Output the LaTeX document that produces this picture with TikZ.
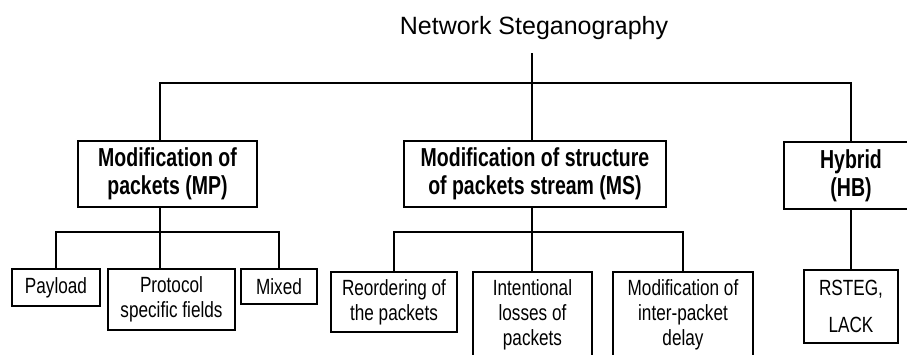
\documentclass[tikz,border=0pt]{standalone}
\usepackage{fontspec}
\setmainfont{Liberation Sans}
\newfontfamily\catfont{Liberation Sans}[FakeStretch=0.75]
\newfontfamily\techfont{Liberation Sans}[FakeStretch=0.78]
\usepackage{tikz}
\usetikzlibrary{positioning, calc}
\tikzstyle{category} = [rectangle, draw=black, line width=1.3pt, align=center, inner sep=2pt, font=\catfont\fontsize{26}{28}\selectfont\bfseries]
\tikzstyle{technique} = [rectangle, draw=black, line width=1.3pt, align=center, inner sep=2pt, font=\techfont\fontsize{22}{25}\selectfont]
\tikzstyle{link} = [line width=1.3pt, draw=black]

\begin{document}
\begin{tikzpicture}[x=1pt, y=-1pt]
    \useasboundingbox (0,0) rectangle (907,354);
    \clip (0,0) rectangle (907,354);

    % Root
    \node[font=\fontsize{25}{30}\selectfont, inner sep=0pt] (title) at (534,28) {Network Steganography};

    % Main classes
    \node[category, minimum width=179pt, minimum height=66pt] (mp) at (167.5,174) {Modification of\\packets (MP)};
    \node[category, minimum width=262pt, minimum height=66pt] (ms) at (535,174) {Modification of structure\\of packets stream (MS)};
    \node[category, minimum width=134pt, minimum height=67pt] (hb) at (851,175.5) {Hybrid\\(HB)};

    % MP techniques
    \node[technique, minimum width=88pt, minimum height=37pt] (payload) at (56,287.5) {Payload};
    \node[technique, minimum width=127pt, minimum height=61pt] (protocol) at (171.5,299.5) {Protocol\\specific fields};
    \node[technique, minimum width=76pt, minimum height=35pt] (mixed) at (279,286.5) {Mixed};

    % MS techniques
    \node[technique, minimum width=126pt, minimum height=60pt] (reorder) at (394,302) {Reordering of\\the packets};
    \node[technique, minimum width=119pt, minimum height=86pt] (losses) at (532.5,315) {Intentional\\losses of\\packets};
    \node[technique, minimum width=140pt, minimum height=86pt] (delay) at (683,315) {Modification of\\inter-packet\\delay};

    % HB techniques
    \node[technique, minimum width=94pt, minimum height=73pt] (rsteg) at (851,306.5) {RSTEG,\\[12pt]LACK};

    % Junctions
    \coordinate (jroot) at (532,53);
    \coordinate (jmp) at (160,83);
    \coordinate (jhb) at (851,83);
    \coordinate (smp) at (160,232);
    \coordinate (sms) at (532,232);

    % Tree lines
    \draw[link] (jroot) -- (ms.north -| jroot);
    \draw[link] (mp.north -| jmp) |- (jhb) -- (hb.north);
    \draw[link] (mp.south -| smp) -- (protocol.north -| smp);
    \draw[link] (payload.north) |- (smp) -| (mixed.north);
    \draw[link] (ms.south -| sms) -- (losses.north -| sms);
    \draw[link] (reorder.north) |- (sms) -| (delay.north);
    \draw[link] (hb) -- (rsteg);
\end{tikzpicture}
\end{document}
